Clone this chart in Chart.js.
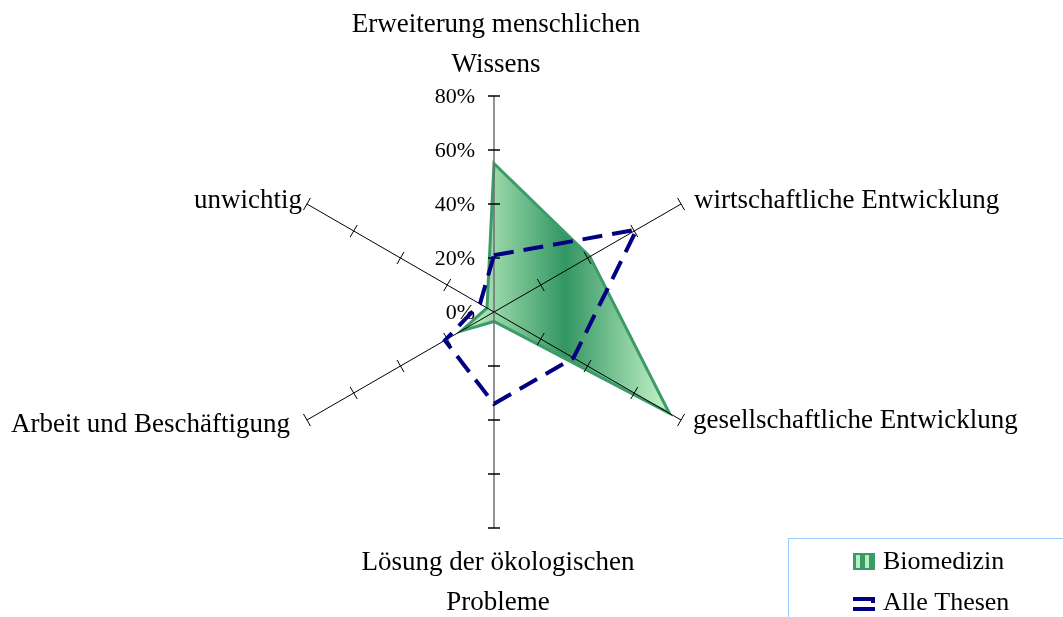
<!DOCTYPE html>
<html>
<head>
<meta charset="utf-8">
<script src="https://cdn.jsdelivr.net/npm/chart.js@4/dist/chart.umd.min.js"></script>
<style>
html,body{margin:0;padding:0;background:#fff;}
canvas{display:block;}
</style>
</head>
<body>
<canvas id="c" width="1063" height="617"></canvas>
<script>
const categories = [
  ["Erweiterung menschlichen", "Wissens"],
  ["wirtschaftliche Entwicklung"],
  ["gesellschaftliche Entwicklung"],
  ["Lösung der ökologischen", "Probleme"],
  ["Arbeit und Beschäftigung"],
  ["unwichtig"]
];
const biomedizin = [55, 41, 75, 3.5, 14, 3];
const alleThesen = [21, 61, 34, 34, 21, 6];
const tickValues = [0, 20, 40, 60, 80];
const tickLabels = ["0%", "20%", "40%", "60%", "80%"];
const seriesNames = ["Biomedizin", "Alle Thesen"];

const SERIF = '"Liberation Serif", "Times New Roman", serif';

function greenGradient(ctx) {
  const chart = ctx.chart;
  const s = chart.scales.r;
  if (!chart.chartArea || !s) return 'rgba(60,150,100,0.7)';
  const xs = biomedizin.map((v, i) => s.getPointPositionForValue(i, v).x);
  const x0 = Math.min(...xs), x1 = Math.max(...xs);
  const g = chart.ctx.createLinearGradient(x0, 0, x1, 0);
  g.addColorStop(0, '#c8f5c8');
  g.addColorStop(0.5, '#329663');
  g.addColorStop(1, '#c8f5c8');
  return g;
}

const axesPlugin = {
  id: 'axesPlugin',
  afterDatasetDraw(chart, args) {
    if (args.index !== 0) return;
    const s = chart.scales.r;
    const ctx = chart.ctx;
    const n = categories.length;
    const max = tickValues[tickValues.length - 1];
    ctx.save();
    for (let i = 0; i < n; i++) {
      const c = s.getPointPositionForValue(i, 0);
      const e = s.getPointPositionForValue(i, max);
      const vertical = (i === 0 || i === 3);
      ctx.beginPath();
      ctx.strokeStyle = vertical ? '#6f6f6f' : '#000';
      ctx.lineWidth = vertical ? 1.5 : 1;
      ctx.moveTo(c.x, c.y);
      ctx.lineTo(e.x, e.y);
      ctx.stroke();
      const dx = e.x - c.x, dy = e.y - c.y;
      const len = Math.hypot(dx, dy);
      const px = -dy / len, py = dx / len;
      const half = vertical ? 6 : 7;
      ctx.strokeStyle = '#000';
      ctx.lineWidth = vertical ? 1.5 : 1;
      for (const tv of tickValues) {
        if (tv === 0) continue;
        const p = s.getPointPositionForValue(i, tv);
        ctx.beginPath();
        ctx.moveTo(p.x - px * half, p.y - py * half);
        ctx.lineTo(p.x + px * half, p.y + py * half);
        ctx.stroke();
      }
    }
    // tick labels on the top axis
    ctx.fillStyle = '#000';
    ctx.font = '22px ' + SERIF;
    ctx.textAlign = 'right';
    ctx.textBaseline = 'middle';
    tickValues.forEach((tv, k) => {
      const p = s.getPointPositionForValue(0, tv);
      ctx.fillText(tickLabels[k], p.x - 19, p.y + 1);
    });
    ctx.restore();
  },
  afterDraw(chart) {
    const s = chart.scales.r;
    const ctx = chart.ctx;
    const max = tickValues[tickValues.length - 1];
    const E = categories.map((_, i) => s.getPointPositionForValue(i, max));
    ctx.save();
    ctx.fillStyle = '#000';
    ctx.font = '27px ' + SERIF;
    ctx.textBaseline = 'alphabetic';
    // top
    ctx.textAlign = 'center';
    ctx.fillText(categories[0][0], E[0].x + 2, E[0].y - 64);
    ctx.fillText(categories[0][1], E[0].x + 2, E[0].y - 24);
    // upper right
    ctx.textAlign = 'left';
    ctx.fillText(categories[1][0], E[1].x + 13, E[1].y + 4);
    // lower right
    ctx.fillText(categories[2][0], E[2].x + 12, E[2].y + 8);
    // bottom
    ctx.textAlign = 'center';
    ctx.fillText(categories[3][0], E[3].x + 4, E[3].y + 42);
    ctx.fillText(categories[3][1], E[3].x + 4, E[3].y + 82);
    // lower left
    ctx.textAlign = 'right';
    ctx.fillText(categories[4][0], E[4].x - 17, E[4].y + 12);
    // upper left
    ctx.fillText(categories[5][0], E[5].x - 5, E[5].y + 4);

    // legend
    ctx.strokeStyle = '#99ccff';
    ctx.lineWidth = 1;
    ctx.strokeRect(788.5, 538.5, 300, 100);
    ctx.fillStyle = '#3a9a68';
    ctx.fillRect(853, 553, 22, 17);
    ctx.fillStyle = '#b8eec2';
    ctx.fillRect(856, 555, 4, 13);
    ctx.fillRect(865, 555, 4, 13);
    ctx.fillStyle = '#000080';
    ctx.fillRect(853, 597, 22, 4);
    ctx.fillRect(871, 597, 4, 6);
    ctx.fillRect(853, 607, 22, 4);
    ctx.fillStyle = '#000';
    ctx.font = '26px ' + SERIF;
    ctx.textAlign = 'left';
    ctx.fillText(seriesNames[0], 883, 569);
    ctx.fillText(seriesNames[1], 883, 610);
    ctx.restore();
  }
};

new Chart(document.getElementById('c'), {
  type: 'radar',
  data: {
    labels: categories,
    datasets: [
      {
        label: seriesNames[0],
        data: biomedizin,
        order: 2,
        fill: true,
        backgroundColor: greenGradient,
        borderColor: '#3d9b6b',
        borderWidth: 3,
        pointRadius: 0,
        pointHoverRadius: 0,
        tension: 0
      },
      {
        label: seriesNames[1],
        data: alleThesen,
        order: 1,
        fill: false,
        borderColor: '#000080',
        borderWidth: 4,
        borderDash: [20, 10],
        borderCapStyle: 'butt',
        pointRadius: 0,
        pointHoverRadius: 0,
        tension: 0
      }
    ]
  },
  options: {
    responsive: false,
    animation: false,
    layout: { padding: { left: 278, right: 353, top: 96, bottom: 89 } },
    plugins: { legend: { display: false }, tooltip: { enabled: false } },
    scales: {
      r: {
        min: 0,
        max: 80,
        ticks: { display: false, stepSize: 20 },
        grid: { display: false },
        angleLines: { display: false },
        pointLabels: { display: false }
      }
    }
  },
  plugins: [axesPlugin]
});
</script>
</body>
</html>
